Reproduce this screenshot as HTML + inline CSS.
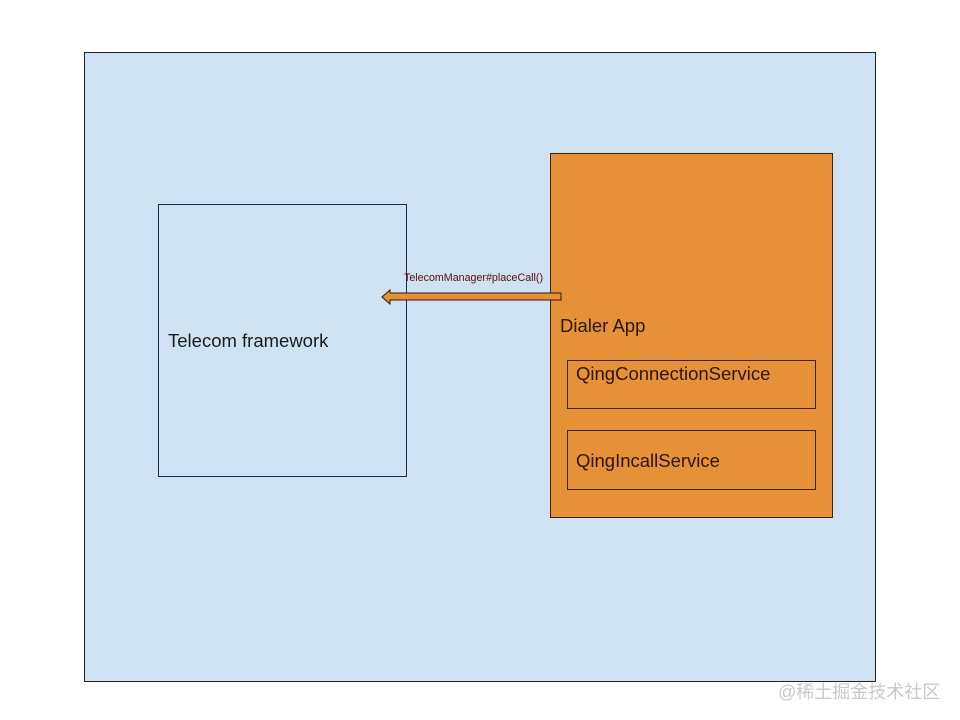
<!DOCTYPE html>
<html><head><meta charset="utf-8"><style>
body{margin:0;width:960px;height:720px;background:#fff;position:relative;overflow:hidden;font-family:"Liberation Sans",sans-serif}
div{position:absolute;box-sizing:border-box}
.t{color:#1a1a1a;font-size:18.5px;white-space:nowrap}
</style></head><body>
<div style="left:84px;top:52px;width:792px;height:630px;background:#cfe2f3;border:1px solid #222"></div>
<div style="left:158px;top:204px;width:249px;height:273px;border:1px solid #1f2a44"></div>
<div class="t" style="left:168px;top:330px">Telecom framework</div>
<div style="left:550px;top:153px;width:283px;height:365px;background:#e69138;border:1px solid #3a2410"></div>
<div class="t" style="left:560px;top:315px;color:#2a1606">Dialer App</div>
<div style="left:567px;top:360px;width:249px;height:49px;border:1px solid #3a2410"></div>
<div class="t" style="left:576px;top:363px;color:#2a1606">QingConnectionService</div>
<div style="left:567px;top:430px;width:249px;height:60px;border:1px solid #3a2410"></div>
<div class="t" style="left:576px;top:450px;color:#2a1606">QingIncallService</div>
<div style="left:404px;top:272px;font-size:10.7px;color:#5a0e0e;white-space:nowrap">TelecomManager#placeCall()</div>
<svg style="position:absolute;left:0;top:0" width="960" height="720">
<polygon points="561,293 390,293 390,290 382,297 390,304 390,300 561,300" fill="#e69138" stroke="#2a1a0a" stroke-width="1"/>
</svg>
<div style="left:778px;top:678px;font-size:18px;color:#c8c8c8;white-space:nowrap;font-family:'Liberation Sans','Noto Sans CJK SC',sans-serif">@稀土掘金技术社区</div>
</body></html>
